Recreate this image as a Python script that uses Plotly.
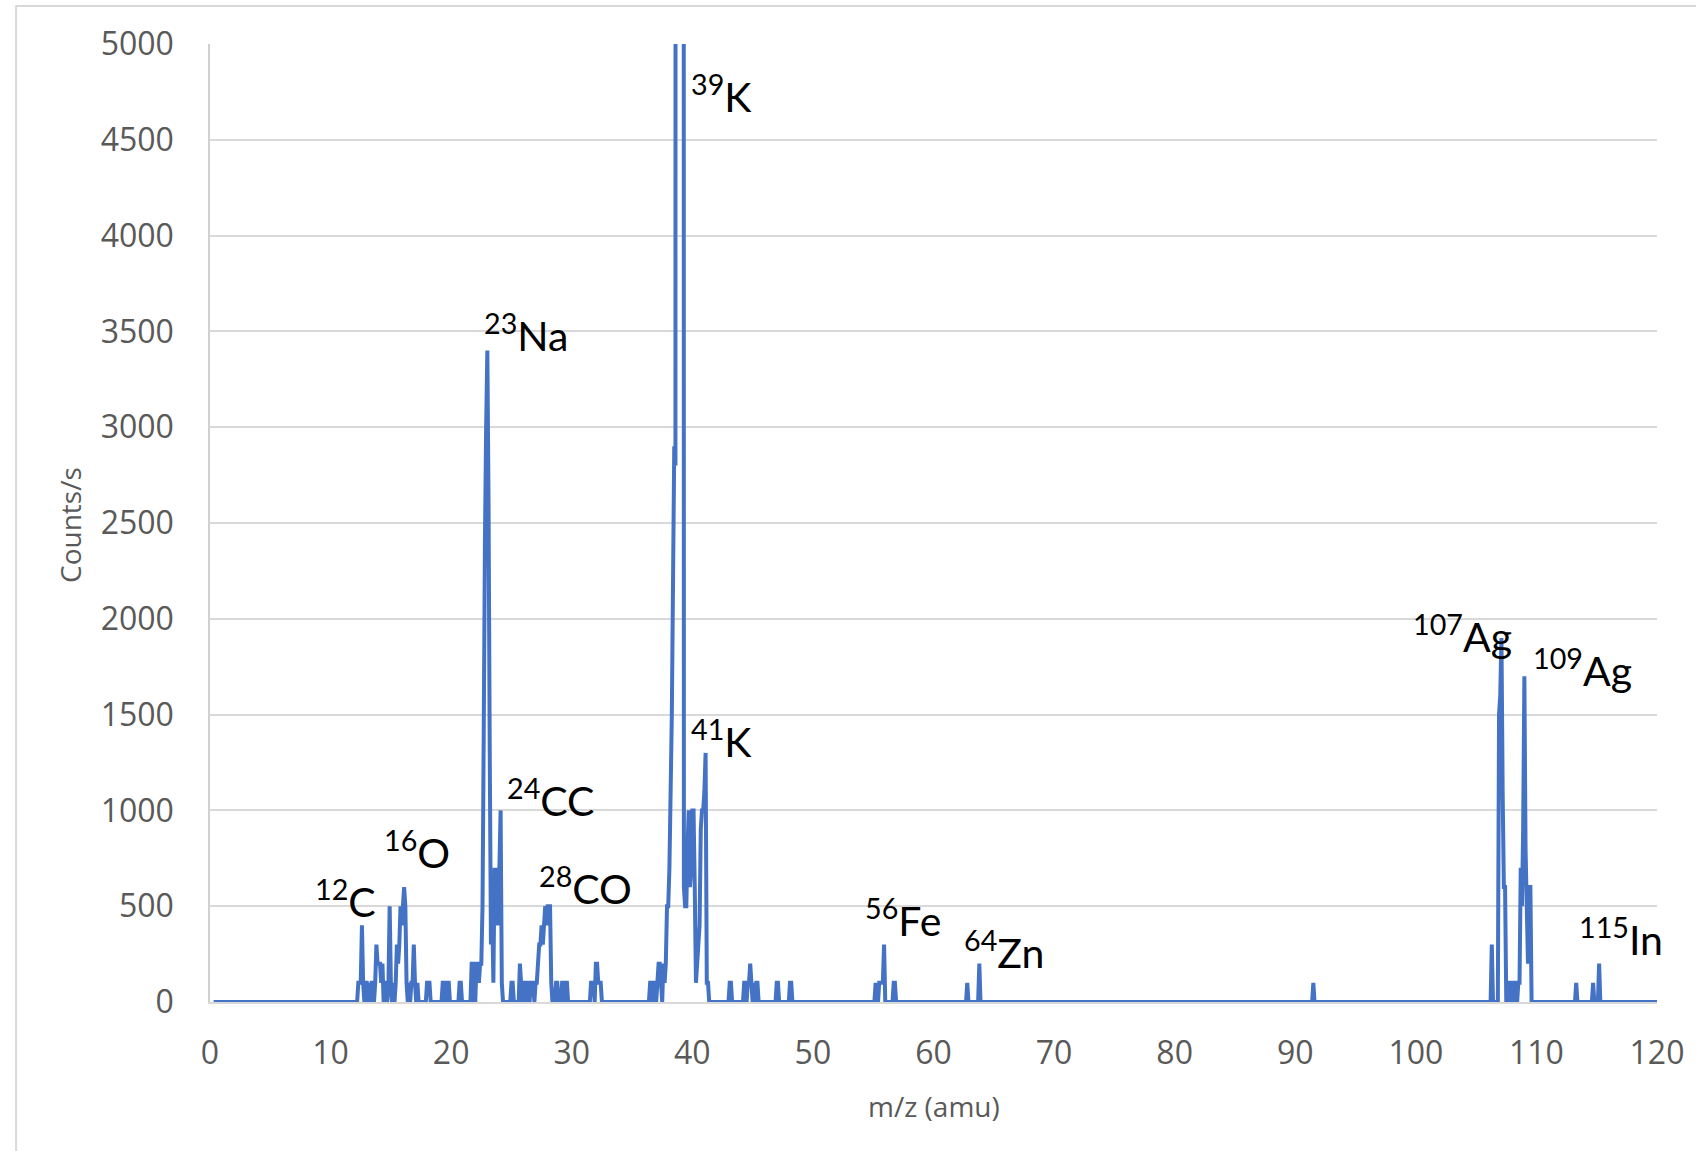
import plotly.graph_objects as go

# ---------------- data ----------------
# each segment: first m/z and counts sampled every 0.1 amu
seg_start = [12.2, 17.9, 19.2, 20.6, 21.6, 24.9, 31.5, 36.4, 43.0, 44.2,
             46.9, 48.0, 55.1, 56.6, 62.7, 63.7, 91.4, 106.2, 113.2, 114.6, 115.1]
seg_counts = [
    [0, 100, 100, 100, 400, 100, 0, 100, 100, 0, 100, 0, 100, 100, 0, 100, 300, 200, 200, 200,
     100, 200, 0, 100, 100, 0, 100, 500, 100, 0, 100, 0, 100, 300, 200, 300, 500, 400, 500, 600,
     500, 100, 0, 100, 0, 100, 100, 300, 100, 0, 100, 0],
    [0, 100, 100, 100, 0],
    [0, 100, 100, 0, 0, 100, 100, 0],
    [0, 100, 100, 0],
    [0, 200, 200, 0, 0, 200, 200, 100, 200, 200, 500, 1400, 2400, 3000, 3400, 2600, 1300, 300,
     500, 100, 700, 400, 700, 400, 700, 1000, 100, 0],
    [0, 100, 100, 0, 0, 0, 0, 0, 200, 100, 0, 100, 100, 0, 100, 100, 0, 100, 100, 100, 0, 100,
     100, 200, 300, 300, 400, 300, 400, 500, 400, 500, 500, 500, 100, 0, 0, 0, 100, 100, 0, 0,
     0, 100, 100, 0, 100, 100, 0],
    [0, 100, 100, 100, 0, 200, 200, 100, 100, 100, 0],
    [0, 100, 100, 0, 100, 100, 0, 100, 200, 200, 100, 0, 200, 100, 200, 500, 500, 700, 1100,
     1500, 2200, 2900, 2800, 40000, 70000, 90000, 90000, 70000, 40000, 600, 500, 500, 800, 1000,
     600, 700, 1000, 1000, 600, 100, 200, 300, 400, 900, 1000, 1000, 1100, 1300, 100, 100, 0],
    [0, 100, 100, 0],
    [0, 100, 100, 0, 100, 100, 200, 100, 0, 100, 0, 100, 100, 0],
    [0, 100, 100, 0],
    [0, 100, 100, 0],
    [0, 100, 0, 0, 100, 100, 100, 100, 300, 0],
    [0, 100, 100, 0],
    [0, 100, 0],
    [0, 200, 0],
    [0, 100, 0],
    [0, 300, 0, 0, 0, 0, 0, 1500, 1600, 1900, 1100, 600, 600, 0, 100, 100, 0, 100, 100, 0, 100,
     100, 0, 100, 100, 700, 500, 900, 1700, 800, 500, 200, 600, 600, 0],
    [0, 100, 0],
    [0, 100, 0],
    [0, 200, 0],
]
mz_first, mz_last = 0.3, 120.0

label_iso = ["12", "16", "23", "24", "28", "39", "41", "56", "64", "107", "109", "115"]
label_el = ["C", "O", "Na", "CC", "CO", "K", "K", "Fe", "Zn", "Ag", "Ag", "In"]
label_x = [8.52, 14.26, 22.52, 24.48, 27.11, 39.74, 39.74, 54.17, 62.33, 99.56, 109.53, 113.34]
label_y = [535, 791, 3490, 1067, 603, 4739, 1375, 441, 274, 1921, 1745, 337]

x_ticks = list(range(0, 121, 10))
y_ticks = list(range(0, 5001, 500))

# ---------------- build series ----------------
mz = [mz_first]
counts = [0]
for s, c in zip(seg_start, seg_counts):
    for i, v in enumerate(c):
        mz.append(round(s + 0.1 * i, 1))
        counts.append(v)
mz.append(mz_last)
counts.append(0)

fig = go.Figure()
fig.add_trace(go.Scatter(x=mz, y=counts, mode="lines",
                         line=dict(color="#4472C4", width=4, simplify=False),
                         hoverinfo="x+y", showlegend=False))

annotations = []
for iso, el, lx, ly in zip(label_iso, label_el, label_x, label_y):
    annotations.append(dict(
        x=lx, y=ly, xref="x", yref="y", xanchor="left", yanchor="middle",
        text=f"<sup>{iso}</sup>{el}",
        showarrow=False, font=dict(family="Lato", size=41, color="#000000")))

annotations.append(dict(x=0.5, y=-0.1086, xref="paper", yref="paper",
                        xanchor="center", yanchor="middle", text="m/z (amu)",
                        showarrow=False,
                        font=dict(family="Open Sans", size=28, color="#595959")))
annotations.append(dict(x=-0.0967, y=0.498, xref="paper", yref="paper",
                        xanchor="center", yanchor="middle", text="Counts/s",
                        textangle=-90, showarrow=False,
                        font=dict(family="Open Sans", size=28, color="#595959")))

fig.update_layout(
    width=1696, height=1151,
    margin=dict(l=210, r=39, t=44, b=149, autoexpand=False),
    paper_bgcolor="white", plot_bgcolor="white",
    font=dict(family="Open Sans", size=32, color="#595959"),
    annotations=annotations,
    shapes=[dict(type="rect", xref="paper", yref="paper",
                 x0=-0.134, x1=1.05, y0=-0.2, y1=1.0397,
                 line=dict(color="#D9D9D9", width=2), fillcolor="rgba(0,0,0,0)",
                 layer="below")],
    xaxis=dict(range=[0, 120], tickvals=x_ticks, ticktext=[str(t) for t in x_ticks],
               showgrid=False, zeroline=False, showline=True, linecolor="#D9D9D9",
               linewidth=1.5, ticks="", ticklabelstandoff=22,
               tickfont=dict(family="Open Sans", size=32, color="#595959")),
    yaxis=dict(range=[0, 5000], tickvals=y_ticks, ticktext=[str(t) for t in y_ticks],
               showgrid=True, gridcolor="#D9D9D9", gridwidth=1.5, zeroline=False,
               showline=True, linecolor="#D0D0D0", linewidth=1.5, ticks="",
               ticklabelstandoff=28,
               tickfont=dict(family="Open Sans", size=32, color="#595959")),
)

fig.write_html("out.html", config={"displayModeBar": False},
               post_script="document.body.style.margin='0';")
